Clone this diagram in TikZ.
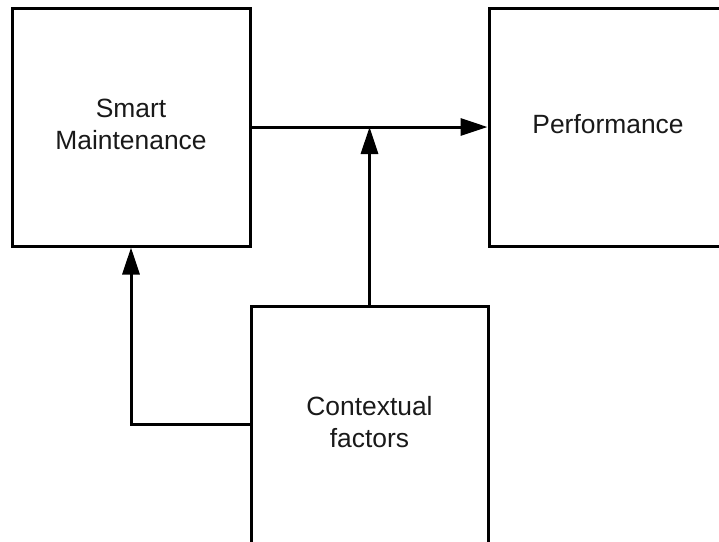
\documentclass[tikz,border=0pt]{standalone}
\usepackage{fontspec}
\setmainfont{Liberation Sans}
\usetikzlibrary{arrows.meta}

\begin{document}
\begin{tikzpicture}[x=1pt,y=-1pt,
  block/.style={draw=black, line width=3pt, rectangle, inner sep=0pt,
    minimum width=238pt, minimum height=238pt, align=center,
    text depth=6pt,
    font=\fontsize{26.4}{32}\selectfont, text=black!90},
  link/.style={draw=black, line width=3pt,
    -{Triangle[length=27pt,width=17pt]}}]
  \useasboundingbox (0,0) rectangle (719,541);
  \clip (0,0) rectangle (719,541);

  % the three boxes
  \node[block] (sm) at (131,127) {Smart\\Maintenance};
  \node[block] (pf) at (608,127) {Performance};
  \node[block, minimum width=237pt] (cf) at (369.5,425) {Contextual\\factors};

  % influence links
  \draw[link] (sm.east) -- (pf.west);
  \draw[link] (cf.north) -- (cf.north |- sm.east);
  \coordinate (bend) at (sm.south |- 0,424);
  \draw[link] (cf.west |- bend) -- (bend) -- (sm.south);
\end{tikzpicture}
\end{document}
